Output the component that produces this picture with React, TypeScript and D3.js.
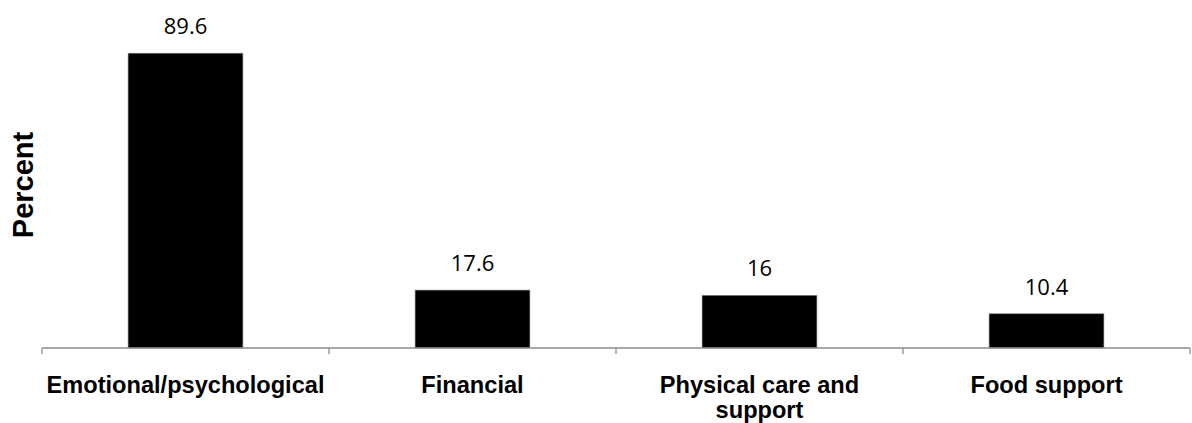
import * as d3 from 'd3';

const categories = ['Emotional/psychological', 'Financial', 'Physical care and support', 'Food support'];
const values = [89.6, 17.6, 16, 10.4];
const categoryLines = [['Emotional/psychological'], ['Financial'], ['Physical care and', 'support'], ['Food support']];
const valueLabels = ['89.6', '17.6', '16', '10.4'];
const yLabel = 'Percent';

export default function App() {
  const width = 1192;
  const height = 423;
  const margin = { top: 19, right: 2, bottom: 75, left: 42 };
  const axisY = height - margin.bottom;

  const x = d3.scaleBand<string>()
    .domain(categories)
    .range([margin.left, width - margin.right])
    .paddingInner(0.6)
    .paddingOuter(0.3);

  const y = d3.scaleLinear().domain([0, 100]).range([axisY, margin.top]);

  const step = x.step();
  const x0 = margin.left;
  const tickXs = d3.range(categories.length + 1).map((i) => x0 + i * step);

  return (
    <div style={{ position: 'fixed', left: 0, top: 0 }}>
      <svg width={width} height={height} viewBox={`0 0 ${width} ${height}`} style={{ display: 'block', background: '#fff' }}>
        {/* Bars */}
        {categories.map((c, i) => (
          <rect
            key={c}
            x={x(c)}
            y={y(values[i])}
            width={x.bandwidth()}
            height={axisY - y(values[i])}
            fill="#000"
            stroke="#808080"
            strokeWidth={0.6}
          />
        ))}

        {/* Value labels */}
        {categories.map((c, i) => (
          <text
            key={`v-${c}`}
            x={(x(c) ?? 0) + x.bandwidth() / 2}
            y={y(values[i]) - 19}
            textAnchor="middle"
            fontFamily="'Open Sans', sans-serif"
            fontSize={22}
            fill="#000"
          >
            {valueLabels[i]}
          </text>
        ))}

        {/* X axis */}
        <line x1={x0} x2={tickXs[tickXs.length - 1]} y1={axisY} y2={axisY} stroke="#8c8c8c" strokeWidth={1.3} />
        {tickXs.map((tx, i) => (
          <line key={`t-${i}`} x1={tx} x2={tx} y1={axisY} y2={axisY + 6} stroke="#8c8c8c" strokeWidth={1.3} />
        ))}

        {/* Category labels */}
        {categories.map((c, i) => (
          <text
            key={`c-${c}`}
            x={(x(c) ?? 0) + x.bandwidth() / 2}
            y={axisY + 45}
            textAnchor="middle"
            fontFamily="'Liberation Sans', Arial, sans-serif"
            fontWeight="bold"
            fontSize={23.6}
            fill="#000"
          >
            {categoryLines[i].map((line, j) => (
              <tspan key={j} x={(x(c) ?? 0) + x.bandwidth() / 2} dy={j === 0 ? 0 : 25}>
                {line}
              </tspan>
            ))}
          </text>
        ))}

        {/* Y label */}
        <text
          transform={`translate(33,185) rotate(-90)`}
          textAnchor="middle"
          fontFamily="'Liberation Sans', Arial, sans-serif"
          fontWeight="bold"
          fontSize={29}
          fill="#000"
        >
          {yLabel}
        </text>
      </svg>
    </div>
  );
}
